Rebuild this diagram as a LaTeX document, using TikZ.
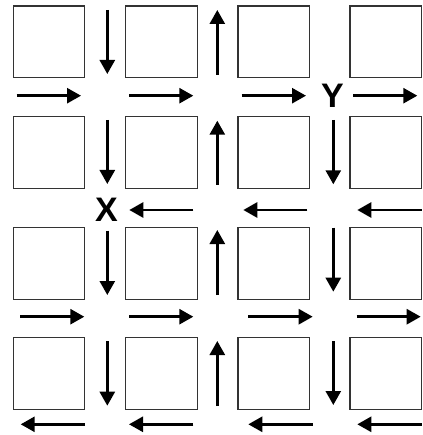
\documentclass[tikz,border=0pt]{standalone}
\usepackage{fontspec}
\setmainfont{Liberation Sans}
\usetikzlibrary{arrows.meta}
\begin{document}
\begin{tikzpicture}[x=1pt,y=-1pt,
  box/.style={draw=black!80,line width=1.1pt,minimum width=71.5pt,minimum height=71.8pt,inner sep=0pt,outer sep=0pt},
  flow/.style={line width=2.7pt,-{Triangle[length=14pt,width=15pt]}},
  lbl/.style={font=\fontsize{34}{34}\selectfont\bfseries,inner sep=0pt}]
\useasboundingbox (0,0) rectangle (422,435);
% boxes
\foreach \c/\x in {1/49.05,2/161.35,3/273.75,4/385.75}{
  \foreach \r/\y in {1/41.9,2/152.6,3/263.2,4/373.6}{
    \node[box] (b\r\c) at (\x,\y) {};
  }
}
% labels
\node[lbl] (Y) at (332.5,95.5) {Y};
\node[lbl] (X) at (106.5,209.5) {X};
% vertical arrows, gap 1 (down)
\draw[flow] (107.3,10) -- (107.3,74);
\draw[flow] (107.3,120) -- (107.3,184);
\draw[flow] (107.3,230.7) -- (107.3,295);
\draw[flow] (107.3,341) -- (107.3,405.7);
% gap 2 (up)
\draw[flow] (217.3,75) -- (217.3,10);
\draw[flow] (217.3,185) -- (217.3,120.7);
\draw[flow] (217.3,295) -- (217.3,230);
\draw[flow] (217.3,406) -- (217.3,341);
% gap 3 (down)
\draw[flow] (333.3,120) -- (333.3,184.3);
\draw[flow] (333.3,227.7) -- (333.3,291.7);
\draw[flow] (333.3,341) -- (333.3,405);
% horizontal row gap 1 (right)
\draw[flow] (16.7,95.7) -- (81,95.7);
\draw[flow] (129,95.7) -- (193.3,95.7);
\draw[flow] (241.7,95.7) -- (306,95.7);
\draw[flow] (353.3,95.7) -- (417.3,95.7);
% row gap 2 (left)
\draw[flow] (193.3,210) -- (129.3,210);
\draw[flow] (307.3,210) -- (243.3,210);
\draw[flow] (421.5,210) -- (357.3,210);
% row gap 3 (right)
\draw[flow] (20,316.7) -- (84.3,316.7);
\draw[flow] (129,316.7) -- (193.3,316.7);
\draw[flow] (248.3,316.7) -- (312.7,316.7);
\draw[flow] (356.7,316.7) -- (420.7,316.7);
% row gap 4 (left)
\draw[flow] (85,424.3) -- (20.7,424.3);
\draw[flow] (193.3,424.3) -- (129,424.3);
\draw[flow] (312.7,424.3) -- (248.3,424.3);
\draw[flow] (421.7,424.3) -- (357.3,424.3);
\end{tikzpicture}
\end{document}
